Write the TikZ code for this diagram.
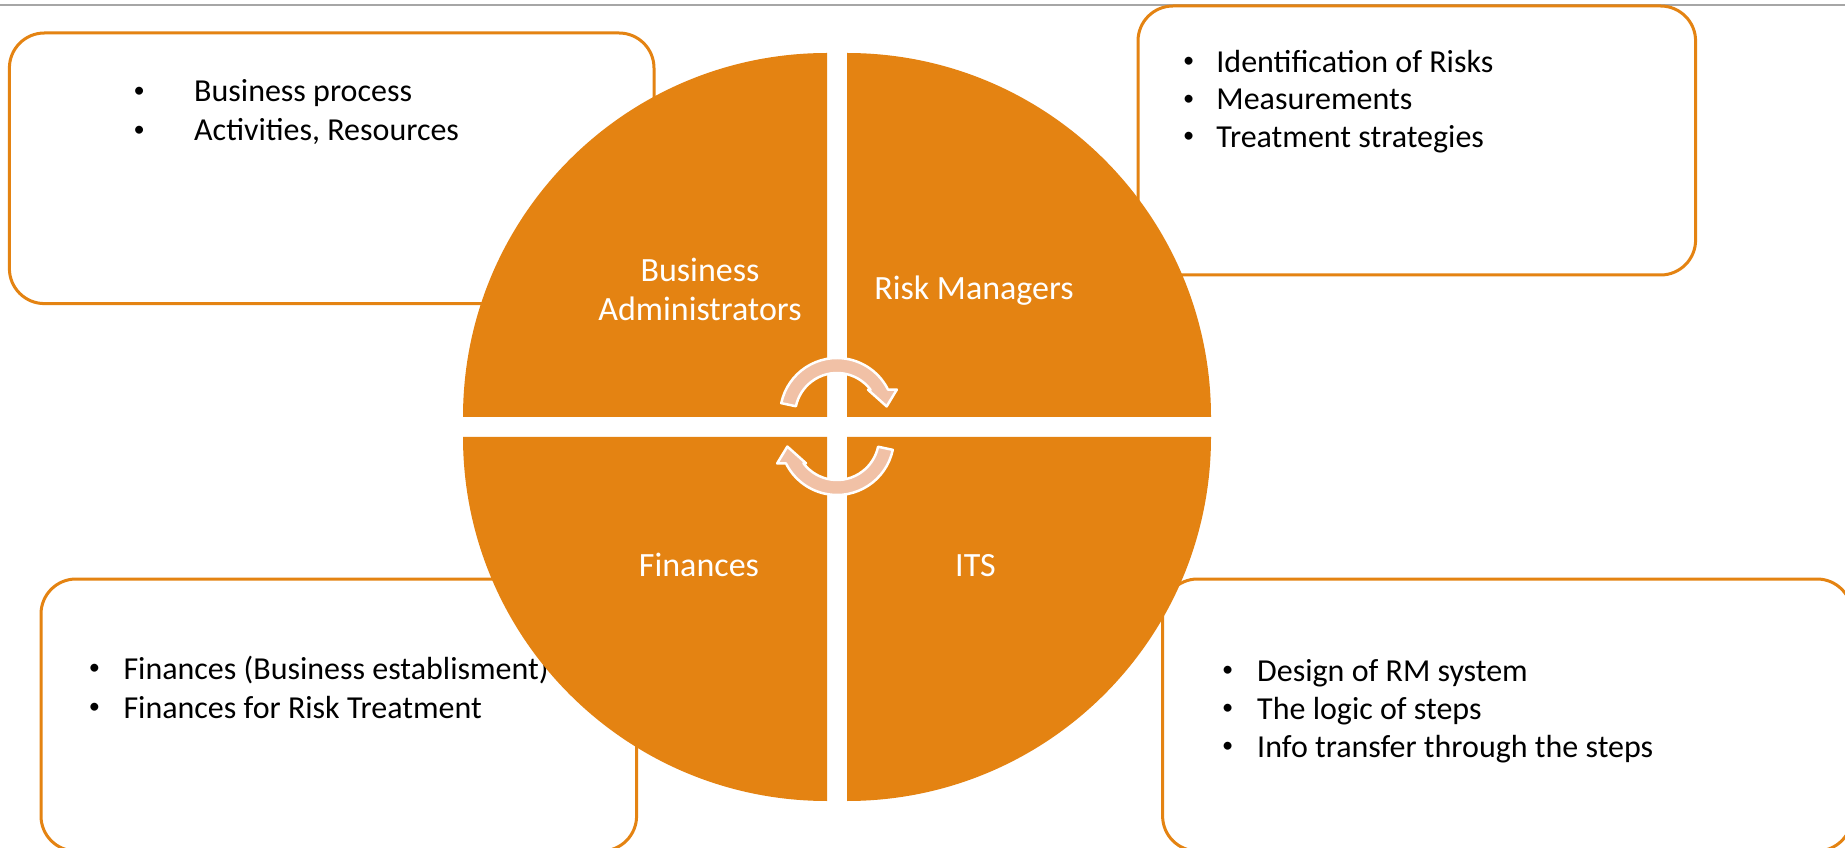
\documentclass[tikz,border=0pt]{standalone}
\usepackage{fontspec}
\setmainfont{Carlito}
\usepackage{tikz}

\definecolor{rmorange}{HTML}{E48312}
\definecolor{rmpeach}{HTML}{F1C1A6}
\newcommand{\rmbul}[1]{\makebox[#1][l]{\hspace{2.3pt}\raisebox{4.5pt}{\scalebox{0.7}{\textbullet}}}}

\begin{document}
\begin{tikzpicture}[x=1pt,y=1pt,
    box/.style={draw=rmorange, fill=white, line width=3, rounded corners=35},
    quad/.style={fill=rmorange},
    item/.style={anchor=base west, inner sep=0, font=\fontsize{32}{38}\selectfont},
    lbl/.style={text=white, inner sep=0, font=\fontsize{34}{39}\selectfont},
    cyc/.style={fill=rmpeach, draw=white, line width=2.5, line join=round}]
    \useasboundingbox (0,0) rectangle (1845,847);
    \clip (0,0) rectangle (1845,847);
    \fill[white] (0,0) rectangle (1845,847);
    \draw[gray!70, line width=2] (0,842) -- (1845,842);

    % the four text boxes
    \draw[box] (9.4,543.4) rectangle (654,814);
    \draw[box] (1138,572) rectangle (1695.6,841);
    \draw[box] (41,-4) rectangle (636.6,268);
    \draw[box] (1162.6,-4) rectangle (1852,268);

    \foreach \t [count=\i] in {{Business process}, {Activities, Resources}}
      \node[item] (ba\i) at (131, 745-39*\i+39) {\rmbul{63pt}\t};
    \foreach \t [count=\i] in {{Identification of Risks}, {Measurements}, {Treatment strategies}}
      \node[item] (rm\i) at (1180.7, 774.5-37.5*\i+37.5) {\rmbul{35.5pt}\t};
    \foreach \t [count=\i] in {{Finances (Business establisment)}, {Finances for Risk Treatment}}
      \node[item] (fi\i) at (86.3, 168-39*\i+39) {\rmbul{37pt}\t};
    \foreach \t [count=\i] in {{Design of RM system}, {The logic of steps}, {Info transfer through the steps}}
      \node[item] (it\i) at (1219.5, 166-38*\i+38) {\rmbul{37.5pt}\t};

    % circle in four quarters
    \foreach \cx/\cy/\a in {827/430/90, 847/430/0, 827/410/180, 847/410/270}
      \fill[quad] (\cx,\cy) -- ++(\a:364) arc[start angle=\a, end angle=\a+90, radius=364] -- cycle;

    \node[lbl, align=center] (admin) at (700,558) {Business\\Administrators};
    \node[lbl, anchor=base] (risk) at (974,547) {Risk Managers};
    \node[lbl, anchor=base] (fin) at (699,271) {Finances};
    \node[lbl, anchor=base] (its) at (975.5,271) {ITS};

    % circular arrows
    \foreach \cy/\rot in {432/0, 409/180}
      \filldraw[cyc, shift={(837,\cy)}, rotate=\rot] (168:57)
        arc[start angle=168, end angle=26.4, radius=57] -- (23:65) -- (9.8:50.4)
        -- (39:40) -- (37.1:42) arc[start angle=37.1, end angle=168, radius=42] -- cycle;
\end{tikzpicture}
\end{document}
